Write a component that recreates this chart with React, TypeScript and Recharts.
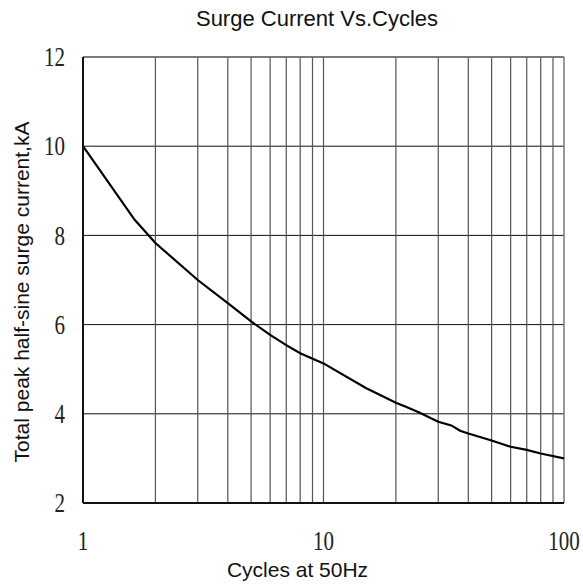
import React from "react"
import { LineChart, Line, XAxis, YAxis, CartesianGrid, ReferenceLine } from "recharts"

const cycles = [1, 1.64, 2, 3, 4, 5, 6, 7, 8, 10, 15, 20, 22, 25, 30, 34, 37, 40, 50, 60, 70, 80, 100]
const currentKA = [10, 8.35, 7.83, 7.0, 6.48, 6.07, 5.77, 5.54, 5.36, 5.13, 4.58, 4.25, 4.16, 4.03, 3.82, 3.74, 3.62, 3.56, 3.4, 3.26, 3.19, 3.11, 3.0]

const xTicks = [1, 10, 100]
const yTicks = [2, 4, 6, 8, 10, 12]
const xGrid = [2, 3, 4, 5, 6, 7, 8, 9, 10, 20, 30, 40, 50, 60, 70, 80, 90]

const data = cycles.map((c, i) => ({ cycles: c, current: currentKA[i] }))

const sans = "'Liberation Sans', Arial, sans-serif"
const serif = "'Liberation Serif', 'Times New Roman', serif"

function XTick({ x, y, payload }: any) {
  return (
    <g transform={`translate(${x},${y}) scale(1,1.3)`}>
      <text x={0} y={13} textAnchor="middle" fontFamily={serif} fontSize={21} fill="#222">
        {payload.value}
      </text>
    </g>
  )
}

function YTick({ x, y, payload }: any) {
  return (
    <g transform={`translate(${x},${y}) scale(1,1.3)`}>
      <text x={0} y={7} textAnchor="end" fontFamily={serif} fontSize={21} fill="#222">
        {payload.value}
      </text>
    </g>
  )
}

export default function App() {
  return (
    <div style={{ position: "absolute", left: 0, top: 0, width: 583, height: 588, background: "#fff" }}>
      <div
        style={{
          position: "absolute",
          left: 0,
          width: 634,
          top: 6,
          textAlign: "center",
          fontFamily: sans,
          fontSize: 22,
          color: "#111",
        }}
      >
        Surge Current Vs.Cycles
      </div>
      <LineChart width={583} height={588} data={data} margin={{ top: 57, right: 19, bottom: 0, left: 0 }}>
        <CartesianGrid vertical={false} stroke="#111" strokeWidth={1} />
        {xGrid.map((v) => (
          <ReferenceLine key={v} x={v} stroke="#555" strokeWidth={1.2} />
        ))}
        <ReferenceLine y={12} stroke="#777" strokeWidth={1.5} />
        <ReferenceLine x={100} stroke="#777" strokeWidth={1.5} />
        <XAxis
          dataKey="cycles"
          type="number"
          scale="log"
          domain={[1, 100]}
          ticks={xTicks}
          allowDataOverflow
          height={85}
          tickLine={false}
          tickSize={0}
          tickMargin={30}
          tick={<XTick />}
          axisLine={{ stroke: "#111", strokeWidth: 2 }}
          label={{
            value: "Cycles at 50Hz",
            position: "insideBottom",
            offset: 11,
            dx: -26,
            style: { fontFamily: sans, fontSize: 21, fill: "#111" },
          }}
        />
        <YAxis
          type="number"
          domain={[2, 12]}
          ticks={yTicks}
          width={83}
          tickLine={false}
          tickSize={0}
          tickMargin={18}
          tick={<YTick />}
          axisLine={{ stroke: "#111", strokeWidth: 2 }}
          label={{
            content: () => (
              <text
                transform="translate(29,292) rotate(-90)"
                textAnchor="middle"
                fontFamily={sans}
                fontSize={21}
                fill="#111"
              >
                Total peak half-sine surge current,kA
              </text>
            ),
          }}
        />
        <Line
          type="linear"
          dataKey="current"
          stroke="#000"
          strokeWidth={2.2}
          dot={false}
          isAnimationActive={false}
        />
      </LineChart>
    </div>
  )
}
